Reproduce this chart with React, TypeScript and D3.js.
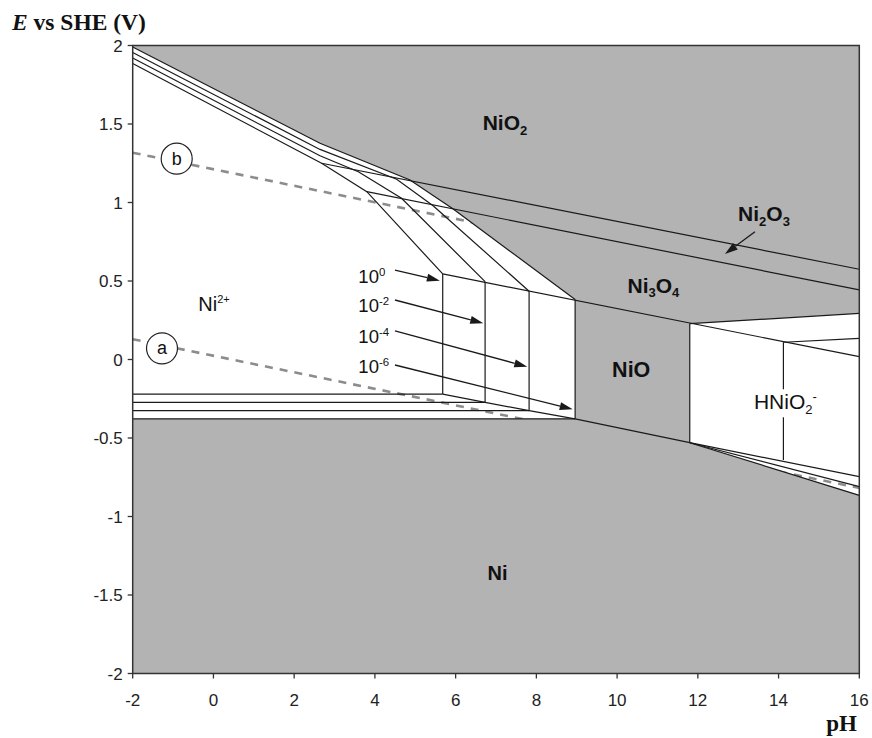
import React from 'react';
import * as d3 from 'd3';

type P = [number, number];

const xTicks = [-2, 0, 2, 4, 6, 8, 10, 12, 14, 16];
const yTicks = [-2, -1.5, -1, -0.5, 0, 0.5, 1, 1.5, 2];

const concExponents = ['0', '-2', '-4', '-6'];

// Ni2+ upper boundaries (NiO2 -> Ni2O3 -> Ni3O4) for 10^0, 10^-2, 10^-4, 10^-6
const ni2Upper0: P[] = [[-2, 1.885], [2.68, 1.25], [3.8, 1.069], [5.68, 0.545]];
const ni2Upper2: P[] = [[-2, 1.92], [2.64, 1.298], [3.59, 1.196], [4.66, 1.027], [6.73, 0.496]];
const ni2Upper4: P[] = [[-2, 1.955], [2.64, 1.338], [4.54, 1.148], [5.45, 0.978], [7.82, 0.435]];
const ni2Upper6: P[] = [[-2, 1.99], [2.64, 1.377], [4.87, 1.143], [5.94, 0.959], [8.96, 0.382]];
const ni2Uppers = [ni2Upper0, ni2Upper2, ni2Upper4, ni2Upper6];

// Ni/Ni2+ potentials and Ni2+/NiO pH for each concentration
const niNi2E = [-0.22, -0.273, -0.326, -0.378];
const ni2NiOpH = [5.68, 6.73, 7.82, 8.96];

const niNiOLine: P[] = [[5.68, -0.22], [6.73, -0.273], [7.82, -0.326], [8.96, -0.378], [11.8, -0.53]];
const niO2Ni2O3Line: P[] = [[2.68, 1.25], [16, 0.575]];
const ni2O3Ni3O4Line: P[] = [[3.8, 1.069], [16, 0.443]];
const ni3O4NiOLine: P[] = [[5.68, 0.545], [16, 0.018]];

const hniO2VertpH = [11.8, 14.12];
const hniO2VertTopE = [0.228, 0.11];
const hniO2VertBotE = [-0.53, -0.64];
const ni3O4HniO2Line6: P[] = [[11.8, 0.228], [16, 0.294]];
const ni3O4HniO2Line4: P[] = [[14.12, 0.11], [16, 0.135]];
const niHniO2Start: P = [11.8, -0.53];
const niHniO2EndE = [-0.746, -0.81, -0.865];

const waterA: P[] = [[-2, 0.129], [16, -0.818]];
const waterB: P[] = [[-2, 1.317], [16, 0.37]];

const W = 872;
const H = 738;
const x = d3.scaleLinear().domain([-2, 16]).range([132.7, 859.3]);
const y = d3.scaleLinear().domain([-2, 2]).range([673.5, 45.5]);
const line = d3.line<P>().x((d) => x(d[0])).y((d) => y(d[1]));

const SANS = 'Liberation Sans, Arial, sans-serif';
const SERIF = 'Liberation Serif, Times New Roman, serif';
const GREY = '#b3b3b3';
const INK = '#1a1a1a';

type Part = [string, 'n' | 'sub' | 'sup'];

function Chem({ px, py, parts, size, bold, anchor, small }: { px: number; py: number; parts: Part[]; size: number; bold?: boolean; anchor?: string; small?: number }) {
  const sm = size * (small || 0.62);
  let cur = 0;
  const spans = parts.map(([t, k], i) => {
    const target = k === 'sub' ? size * 0.22 : k === 'sup' ? -size * 0.38 : 0;
    const dy = target - cur;
    cur = target;
    return (
      <tspan key={i} dy={dy} fontSize={k === 'n' ? size : sm}>
        {t}
      </tspan>
    );
  });
  return (
    <text x={px} y={py} fontFamily={SANS} fontSize={size} fontWeight={bold ? 'bold' : 'normal'} textAnchor={anchor || 'start'} fill="#111">
      {spans}
    </text>
  );
}

function Arrow({ from, to }: { from: P; to: P }) {
  const x1 = x(from[0]), y1 = y(from[1]), x2 = x(to[0]), y2 = y(to[1]);
  const ang = Math.atan2(y2 - y1, x2 - x1);
  const L = 13, Wd = 4;
  const bx = x2 - L * Math.cos(ang), by = y2 - L * Math.sin(ang);
  const nx = -Math.sin(ang) * Wd, ny = Math.cos(ang) * Wd;
  return (
    <g>
      <line x1={x1} y1={y1} x2={bx} y2={by} stroke={INK} strokeWidth={1.3} />
      <path d={`M${x2},${y2}L${bx + nx},${by + ny}L${bx - nx},${by - ny}Z`} fill={INK} />
    </g>
  );
}

export default function App() {
  const x0 = x(-2), x1 = x(16), yTop = y(2), yBot = y(-2);
  const white1: P[] = [...ni2Upper6, [ni2NiOpH[3], niNi2E[3]], [-2, niNi2E[3]]];
  const white2: P[] = [ni3O4HniO2Line6[0], ni3O4HniO2Line6[1], [16, niHniO2EndE[2]], niHniO2Start];
  const poly = (pts: P[]) => 'M' + pts.map((p) => `${x(p[0])},${y(p[1])}`).join('L') + 'Z';
  const greyPath = `M${x0},${yTop}H${x1}V${yBot}H${x0}Z` + poly(white1) + poly(white2);

  const lineProps = { fill: 'none', stroke: INK, strokeWidth: 1.2 };

  const concLabelY = [0.487, 0.303, 0.106, -0.086];
  const arrowStart: P[] = [[4.497, 0.57], [4.497, 0.379], [4.497, 0.182], [4.497, -0.035]];
  const arrowEnd: P[] = [[5.61, 0.502], [6.685, 0.231], [7.775, -0.046], [8.9, -0.317]];

  return (
    <div style={{ position: 'absolute', left: 0, top: 0, width: W, height: H, background: '#fff' }}>
      <svg width={W} height={H} style={{ display: 'block' }}>
        <rect x={0} y={0} width={W} height={H} fill="#fff" />
        {/* water lines */}
        {[waterA, waterB].map((d, i) => (
          <path key={i} d={line(d) || ''} fill="none" stroke="#8c8c8c" strokeWidth={2.6} strokeDasharray="8 7" />
        ))}
        {/* grey stable solid domains */}
        <path d={greyPath} fill={GREY} fillRule="evenodd" />
        {/* boundaries */}
        {ni2Uppers.map((d, i) => (
          <path key={'u' + i} d={line(d) || ''} {...lineProps} />
        ))}
        {ni2NiOpH.map((p, i) => (
          <line key={'v' + i} x1={x(p)} x2={x(p)} y1={y(ni2Uppers[i][ni2Uppers[i].length - 1][1])} y2={y(niNi2E[i])} {...lineProps} />
        ))}
        {niNi2E.map((e, i) => (
          <line key={'h' + i} x1={x(-2)} x2={x(ni2NiOpH[i])} y1={y(e)} y2={y(e)} {...lineProps} />
        ))}
        <path d={line(niNiOLine) || ''} {...lineProps} />
        <path d={line(niO2Ni2O3Line) || ''} {...lineProps} />
        <path d={line(ni2O3Ni3O4Line) || ''} {...lineProps} />
        <path d={line(ni3O4NiOLine) || ''} {...lineProps} />
        <path d={line(ni3O4HniO2Line6) || ''} {...lineProps} />
        <path d={line(ni3O4HniO2Line4) || ''} {...lineProps} />
        {hniO2VertpH.map((p, i) => (
          <line key={'hv' + i} x1={x(p)} x2={x(p)} y1={y(hniO2VertTopE[i])} y2={y(hniO2VertBotE[i])} {...lineProps} />
        ))}
        {niHniO2EndE.map((e, i) => (
          <path key={'b' + i} d={line([niHniO2Start, [16, e]]) || ''} {...lineProps} />
        ))}

        {/* circles a, b */}
        {[
          ['a', -1.274, 0.071],
          ['b', -0.91, 1.279],
        ].map(([t, px, e]) => (
          <g key={t as string}>
            <circle cx={x(px as number)} cy={y(e as number)} r={15.5} fill="#fff" stroke="#222" strokeWidth={1.2} />
            <text x={x(px as number)} y={y(e as number) + 6} textAnchor="middle" fontFamily={SANS} fontSize={18} fill="#111">
              {t}
            </text>
          </g>
        ))}

        {/* species labels */}
        <Chem px={x(7.222)} py={y(1.462)} parts={[['NiO', 'n'], ['2', 'sub']]} size={21} bold anchor="middle" />
        <Chem px={x(13.64)} py={y(0.882)} parts={[['Ni', 'n'], ['2', 'sub'], ['O', 'n'], ['3', 'sub']]} size={21} bold anchor="middle" />
        <Chem px={x(10.9)} py={y(0.425)} parts={[['Ni', 'n'], ['3', 'sub'], ['O', 'n'], ['4', 'sub']]} size={21} bold anchor="middle" />
        <Chem px={x(10.35)} py={y(-0.11)} parts={[['NiO', 'n']]} size={21.5} bold anchor="middle" />
        <Chem px={x(7.04)} py={y(-1.404)} parts={[['Ni', 'n']]} size={20} bold anchor="middle" />
        <rect x={x(13.39) - 2} y={y(-0.317) - 20} width={70} height={28} fill="#fff" />
        <Chem px={x(13.39)} py={y(-0.317)} parts={[['HNiO', 'n'], ['2', 'sub'], ['-', 'sup']]} size={21} />
        <Chem px={x(-0.375)} py={y(0.309)} parts={[['Ni', 'n'], ['2+', 'sup']]} size={20} small={0.55} />

        {/* concentration labels and arrows */}
        {concExponents.map((ex, i) => (
          <g key={'c' + i}>
            <Chem px={x(3.59)} py={y(concLabelY[i])} parts={[['10', 'n'], [ex, 'sup']]} size={18.5} />
            <Arrow from={arrowStart[i]} to={arrowEnd[i]} />
          </g>
        ))}
        <Arrow from={[13.415, 0.814]} to={[12.672, 0.672]} />

        {/* frame */}
        <rect x={x0} y={yTop} width={x1 - x0} height={yBot - yTop} fill="none" stroke="#333" strokeWidth={1.5} />

        {/* axes ticks */}
        {xTicks.map((t) => (
          <g key={'xt' + t}>
            <line x1={x(t)} x2={x(t)} y1={yBot} y2={yBot + 5} stroke="#333" strokeWidth={1.3} />
            <text x={x(t)} y={yBot + 32} textAnchor="middle" fontFamily={SANS} fontSize={17} fill="#222">
              {String(t)}
            </text>
          </g>
        ))}
        {yTicks.map((t) => (
          <g key={'yt' + t}>
            <line x1={x0 - 5} x2={x0} y1={y(t)} y2={y(t)} stroke="#333" strokeWidth={1.3} />
            <text x={x0 - 10} y={y(t) + 6} textAnchor="end" fontFamily={SANS} fontSize={17} fill="#222">
              {String(t)}
            </text>
          </g>
        ))}

        {/* axis titles */}
        <text x={12} y={30} fontFamily={SERIF} fontSize={23.5} fontWeight="bold" fill="#111">
          <tspan fontStyle="italic">E</tspan>
          <tspan> vs SHE (V)</tspan>
        </text>
        <text x={857} y={731} textAnchor="end" fontFamily={SERIF} fontSize={23} fontWeight="bold" fill="#111">
          pH
        </text>
      </svg>
    </div>
  );
}
